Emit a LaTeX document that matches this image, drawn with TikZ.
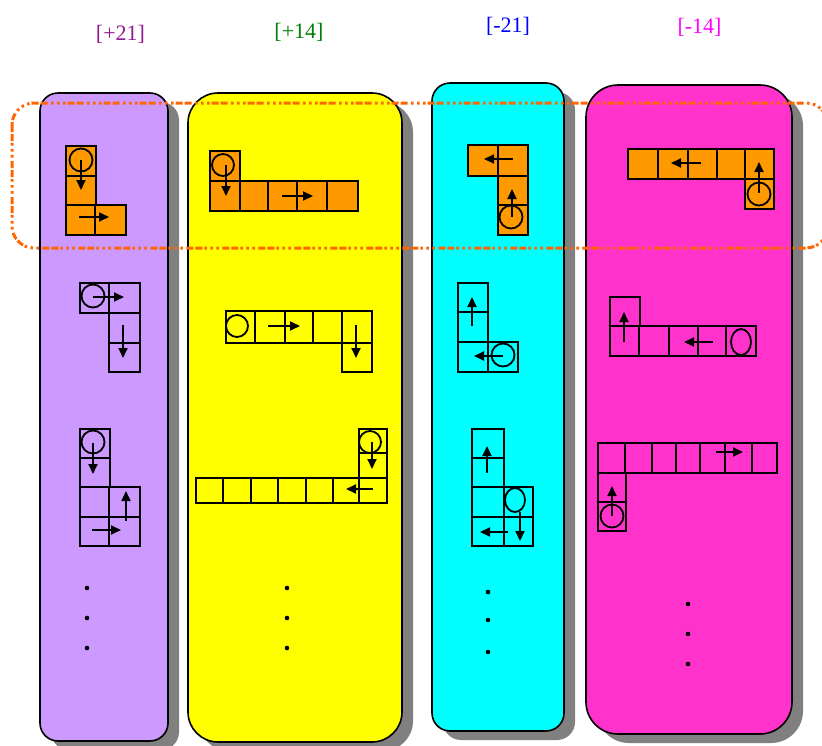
\documentclass[tikz,border=0pt]{standalone}
\usepackage{fontspec}
\setmainfont{Liberation Serif}
\usetikzlibrary{arrows.meta}
\definecolor{spaltelila}{HTML}{CC99FF}
\definecolor{spaltegelb}{HTML}{FFFF00}
\definecolor{spaltecyan}{HTML}{00FFFF}
\definecolor{spaltepink}{HTML}{FF33CC}
\definecolor{orangefeld}{HTML}{FF9900}
\definecolor{rahmenorange}{HTML}{FF6600}
\definecolor{schatten}{HTML}{808080}
\definecolor{tlila}{HTML}{901A90}
\definecolor{tgruen}{HTML}{008000}
\definecolor{tblau}{HTML}{0000FF}
\definecolor{tpink}{HTML}{FF00FF}
\newcommand{\titel}{\fontsize{22}{26}\selectfont}
\tikzset{feld/.style={draw=black,line width=1.9pt},
  kreis/.style={draw=black,line width=1.8pt},
  zugpfeil/.style={line width=1.8pt,-{Triangle[length=10pt,width=9pt]}},
  spalte/.style={draw=black,line width=1.6pt},
  auswahl/.style={rahmenorange,line width=3pt,rounded corners=22,
    dash pattern=on 7pt off 2pt on 7pt off 2pt on 2.5pt off 3.5pt on 2.5pt off 3.5pt on 2.5pt off 3.5pt}}

\begin{document}
\begin{tikzpicture}[x=1pt,y=-1pt]
\useasboundingbox (0,0) rectangle (822,745);
% Titel
\node[text=tlila,font=\titel,inner sep=0] (t21p) at (120.5,34.5) {[+21]};
\node[text=tgruen,font=\titel,inner sep=0] (t14p) at (299,32) {[+14]};
\node[text=tblau,font=\titel,inner sep=0] (t21m) at (508,26) {[-21]};
\node[text=tpink,font=\titel,inner sep=0] (t14m) at (699.5,27) {[-14]};
% Spalten mit Schatten
\fill[schatten,rounded corners=18] (51,102) rectangle (179,750);
\draw[spalte,fill=spaltelila,rounded corners=18] (40,93) rectangle (168,741);
\fill[schatten,rounded corners=30] (199,102) rectangle (413,751);
\draw[spalte,fill=spaltegelb,rounded corners=30] (188,93) rectangle (402,742);
\fill[schatten,rounded corners=18] (443,92) rectangle (575,740);
\draw[spalte,fill=spaltecyan,rounded corners=18] (432,83) rectangle (564,731);
\fill[schatten,rounded corners=32] (597,94) rectangle (803,743);
\draw[spalte,fill=spaltepink,rounded corners=32] (586,85) rectangle (792,734);
% Auswahlrahmen
\draw[auswahl] (12,103) rectangle (828,248);
% [+21]
\draw[feld,fill=orangefeld] (66,146) rectangle (96,176) (66,176) rectangle (96,205) (66,205) rectangle (95,235) (95,205) rectangle (126,235);
\draw[kreis] (81,160) circle (11.5);
\draw[zugpfeil] (81,160) -- (81,190);\draw[zugpfeil] (79,217) -- (109,217);
\draw[feld] (80,283) rectangle (109,313) (109,283) rectangle (140,313) (109,313) rectangle (140,343) (109,343) rectangle (140,372);
\draw[kreis] (93,296) circle (11.5);
\draw[zugpfeil] (93,297) -- (124,297);\draw[zugpfeil] (123,325) -- (123,358);
\draw[feld] (80,429) rectangle (110,458) (80,458) rectangle (110,487) (80,487) rectangle (109,517) (109,487) rectangle (140,517) (80,517) rectangle (109,546) (109,517) rectangle (140,546);
\draw[kreis] (93,442) circle (11.5);
\draw[zugpfeil] (93,443) -- (93,474);\draw[zugpfeil] (126,521) -- (126,491);\draw[zugpfeil] (92,530) -- (121,530);
\fill (87,588) circle (2.3);\fill (87,618) circle (2.3);\fill (87,648) circle (2.3);
% [+14]
\draw[feld,fill=orangefeld] (210,151) rectangle (240,181) (210,181) rectangle (240,211) (240,181) rectangle (268,211) (268,181) rectangle (297,211) (297,181) rectangle (327,211) (327,181) rectangle (358,211);
\draw[kreis] (223,165) circle (11);
\draw[zugpfeil] (226,165) -- (226,196);\draw[zugpfeil] (282,196) -- (313,196);
\draw[feld] (226,311) rectangle (255,343) (255,311) rectangle (285,343) (285,311) rectangle (313,343) (313,311) rectangle (342,343) (342,311) rectangle (372,343) (342,343) rectangle (372,372);
\draw[kreis] (237,326) circle (11);
\draw[zugpfeil] (268,326) -- (300,326);\draw[zugpfeil] (356,325) -- (356,358);
\draw[feld] (359,429) rectangle (387,453) (359,453) rectangle (387,478) (196,478) rectangle (223,503) (223,478) rectangle (251,503) (251,478) rectangle (278,503) (278,478) rectangle (306,503) (306,478) rectangle (333,503) (333,478) rectangle (359,503) (359,478) rectangle (387,503);
\draw[kreis] (370,442) circle (11);
\draw[zugpfeil] (372,442) -- (372,469);\draw[zugpfeil] (373,489) -- (346,489);
\fill (287,588) circle (2.3);\fill (287,618) circle (2.3);\fill (287,648) circle (2.3);
% [-21]
\draw[feld,fill=orangefeld] (468,145) rectangle (498,176) (498,145) rectangle (528,176) (498,176) rectangle (528,205) (498,205) rectangle (528,235);
\draw[kreis] (511,217) circle (11.5);
\draw[zugpfeil] (512,217) -- (512,189);\draw[zugpfeil] (513,159) -- (484,159);
\draw[feld] (458,283) rectangle (488,312) (458,312) rectangle (488,342) (458,342) rectangle (488,372) (488,342) rectangle (518,372);
\draw[kreis] (503,355) circle (11.5);
\draw[zugpfeil] (503,356) -- (474,356);\draw[zugpfeil] (472,326) -- (472,297);
\draw[feld] (472,429) rectangle (504,458) (472,458) rectangle (504,487) (472,487) rectangle (504,517) (504,487) rectangle (533,517) (472,517) rectangle (504,546) (504,517) rectangle (533,546);
\draw[kreis] (515,500) ellipse (10 and 12);
\draw[zugpfeil] (487,473) -- (487,446);\draw[zugpfeil] (520,512) -- (520,541);\draw[zugpfeil] (508,532) -- (480,532);
\fill (488,592) circle (2.3);\fill (488,620) circle (2.3);\fill (488,652) circle (2.3);
% [-14]
\draw[feld,fill=orangefeld] (628,149) rectangle (658,179) (658,149) rectangle (688,179) (688,149) rectangle (717,179) (717,149) rectangle (745,179) (745,149) rectangle (774,179) (745,179) rectangle (774,209);
\draw[kreis] (759,194) circle (11.5);
\draw[zugpfeil] (759,193) -- (759,162);\draw[zugpfeil] (701,163) -- (671,163);
\draw[feld] (610,297) rectangle (640,326) (610,326) rectangle (639,356) (639,326) rectangle (669,356) (669,326) rectangle (698,356) (698,326) rectangle (726,356) (726,326) rectangle (756,356);
\draw[kreis] (741,342) ellipse (10 and 13);
\draw[zugpfeil] (624,342) -- (624,312);\draw[zugpfeil] (713,342) -- (684,342);
\draw[feld] (598,443) rectangle (625,473) (625,443) rectangle (652,473) (652,443) rectangle (676,473) (676,443) rectangle (700,473) (700,443) rectangle (725,473) (725,443) rectangle (752,473) (752,443) rectangle (777,473) (598,473) rectangle (626,502) (598,502) rectangle (626,531);
\draw[kreis] (612,516) circle (11.5);
\draw[zugpfeil] (612,516) -- (612,486);\draw[zugpfeil] (716,452) -- (743,452);
\fill (688,604) circle (2.3);\fill (688,634) circle (2.3);\fill (688,664) circle (2.3);
\end{tikzpicture}
\end{document}
